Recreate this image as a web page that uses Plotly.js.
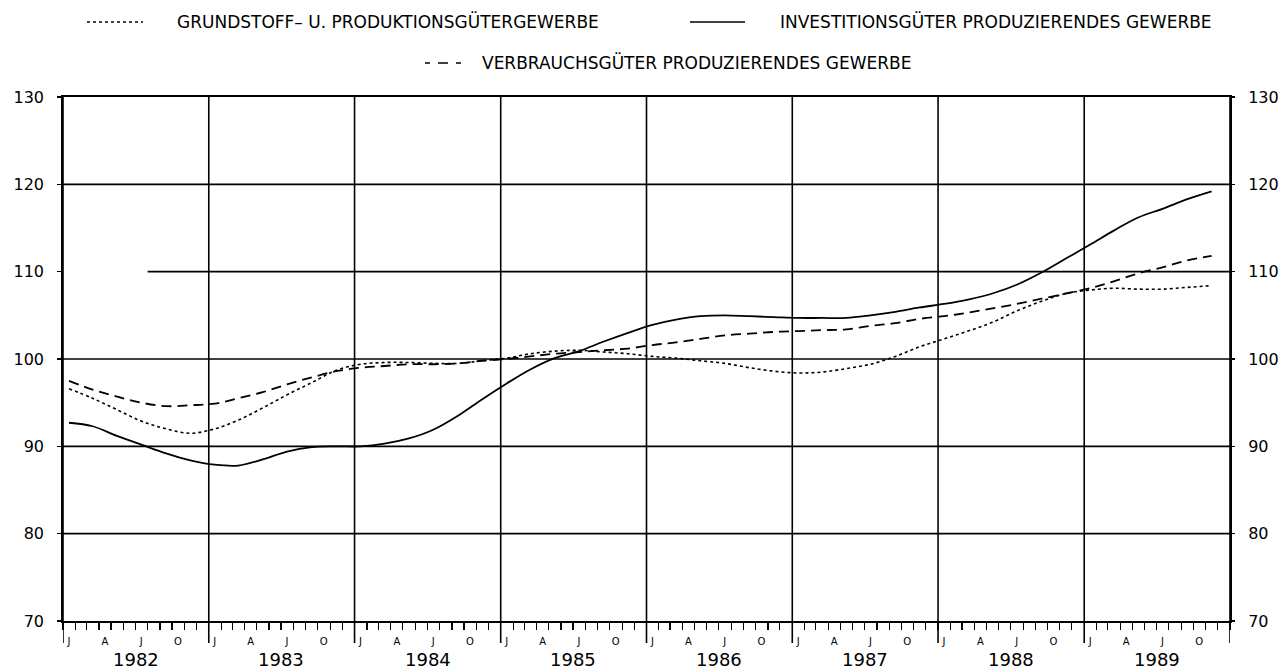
<!DOCTYPE html>
<html>
<head>
<meta charset="utf-8">
<script src="https://cdn.plot.ly/plotly-3.0.1.min.js"></script>
<style>html,body{margin:0;padding:0;background:#fff}#chart{width:1286px;height:669px}</style>
</head>
<body>
<div id="chart"></div>
<script>
// dates (mid-month, every second month)
var dates = [
 '1982-01-16','1982-03-16','1982-05-16','1982-07-16','1982-09-16','1982-11-16',
 '1983-01-16','1983-03-16','1983-05-16','1983-07-16','1983-09-16','1983-11-16',
 '1984-01-16','1984-03-16','1984-05-16','1984-07-16','1984-09-16','1984-11-16',
 '1985-01-16','1985-03-16','1985-05-16','1985-07-16','1985-09-16','1985-11-16',
 '1986-01-16','1986-03-16','1986-05-16','1986-07-16','1986-09-16','1986-11-16',
 '1987-01-16','1987-03-16','1987-05-16','1987-07-16','1987-09-16','1987-11-16',
 '1988-01-16','1988-03-16','1988-05-16','1988-07-16','1988-09-16','1988-11-16',
 '1989-01-16','1989-03-16','1989-05-16','1989-07-16','1989-09-16','1989-11-16'
];
var grundstoff = [
 96.6, 95.5, 94.2, 92.9, 92.0, 91.5,
 92.0, 93.0, 94.4, 95.9, 97.3, 98.7,
 99.4, 99.6, 99.6, 99.5, 99.5, 99.8,
 100.1, 100.6, 100.9, 101.0, 100.8, 100.6,
 100.3, 100.1, 99.8, 99.5, 99.0, 98.6,
 98.4, 98.5, 98.9, 99.4, 100.3, 101.4,
 102.3, 103.2, 104.2, 105.5, 106.6, 107.5,
 107.9, 108.1, 108.0, 108.0, 108.2, 108.4
];
var investition = [
 92.7, 92.3, 91.2, 90.2, 89.2, 88.4,
 87.9, 87.8, 88.5, 89.4, 89.9, 90.0,
 90.0, 90.3, 90.9, 91.9, 93.5, 95.4,
 97.2, 98.8, 100.1, 100.9, 102.0, 103.0,
 103.9, 104.5, 104.9, 105.0, 104.9, 104.8,
 104.7, 104.7, 104.7, 105.0, 105.4, 105.9,
 106.3, 106.8, 107.5, 108.5, 109.9, 111.5,
 113.1, 114.7, 116.2, 117.2, 118.3, 119.2
];
var verbrauch = [
 97.5, 96.5, 95.7, 95.0, 94.6, 94.7,
 94.9, 95.5, 96.2, 97.1, 97.9, 98.6,
 99.0, 99.2, 99.4, 99.4, 99.5, 99.8,
 100.0, 100.3, 100.6, 100.8, 101.0, 101.2,
 101.6, 101.9, 102.3, 102.7, 102.9, 103.1,
 103.2, 103.3, 103.4, 103.8, 104.1, 104.6,
 104.9, 105.3, 105.8, 106.3, 106.9, 107.5,
 108.1, 108.9, 109.8, 110.5, 111.3, 111.8
];
var years = ['1982','1983','1984','1985','1986','1987','1988','1989'];
var monthLetters = ['J','A','J','O'];
var monthDays = ['-01-16','-04-16','-07-16','-10-16'];
var seriesNames = ['GRUNDSTOFF\u2013 U. PRODUKTIONSG\u00dcTERGEWERBE','INVESTITIONSG\u00dcTER PRODUZIERENDES GEWERBE','VERBRAUCHSG\u00dcTER PRODUZIERENDES GEWERBE'];
var gridValues = [80, 90, 100, 110, 120];

var FONT = "'DejaVu Sans', 'Liberation Sans', sans-serif";

var traces = [
 {x: dates, y: grundstoff, name: seriesNames[0], mode: 'lines', line: {color: '#000', width: 1.6, dash: '3px,3px', shape: 'spline', smoothing: 1}},
 {x: dates, y: investition, name: seriesNames[1], mode: 'lines', line: {color: '#000', width: 1.8, shape: 'spline', smoothing: 1}},
 {x: dates, y: verbrauch, name: seriesNames[2], mode: 'lines', yaxis: 'y2', line: {color: '#000', width: 1.8, dash: '10px,6px', shape: 'spline', smoothing: 1}}
];

var tickvals = [], ticktext = [];
years.forEach(function (yr) {
  monthDays.forEach(function (md, i) { tickvals.push(yr + md); ticktext.push(monthLetters[i]); });
});

var shapes = [];
// vertical year lines, extending below the axis
for (var i = 0; i <= years.length; i++) {
  var yr = (1982 + i) + '-01-01';
  shapes.push({type: 'line', xref: 'x', yref: 'paper', x0: yr, x1: yr, y0: -0.042, y1: 1, line: {color: '#000', width: 1.6}, layer: 'below'});
}
// horizontal grid lines
gridValues.forEach(function (v) {
  shapes.push({type: 'line', xref: v === 110 ? 'x' : 'paper', yref: 'y',
    x0: v === 110 ? '1982-08-01' : 0, x1: v === 110 ? '1990-01-01' : 1,
    y0: v, y1: v, line: {color: '#000', width: 1.6}, layer: 'below'});
});

// legend samples (paper coordinates)
function px(x) { return (x - 63) / 1167; }
function py(y) { return (621 - y) / 524; }
shapes.push({type: 'line', xref: 'paper', yref: 'paper', x0: px(87), x1: px(143), y0: py(22), y1: py(22), line: {color: '#000', width: 1.3, dash: '3px,3px'}});
shapes.push({type: 'line', xref: 'paper', yref: 'paper', x0: px(690), x1: px(745), y0: py(22), y1: py(22), line: {color: '#000', width: 1.6}});
shapes.push({type: 'line', xref: 'paper', yref: 'paper', x0: px(425), x1: px(461), y0: py(63), y1: py(63), line: {color: '#000', width: 1.4, dash: '5px,8px,10px,8px,5px'}});

var legFont = {family: FONT, size: 17, color: '#000'};
var annotations = [
 {xref: 'paper', yref: 'paper', x: px(175), y: py(22), xanchor: 'left', yanchor: 'middle', text: seriesNames[0], showarrow: false, font: legFont},
 {xref: 'paper', yref: 'paper', x: px(778), y: py(22), xanchor: 'left', yanchor: 'middle', text: seriesNames[1], showarrow: false, font: legFont},
 {xref: 'paper', yref: 'paper', x: px(480), y: py(63), xanchor: 'left', yanchor: 'middle', text: seriesNames[2], showarrow: false, font: legFont}
];
years.forEach(function (yr) {
  annotations.push({xref: 'x', yref: 'paper', x: yr + '-07-02', y: py(659), xanchor: 'center', yanchor: 'middle', text: yr, showarrow: false, font: {family: FONT, size: 18, color: '#000'}});
});

var layout = {
  width: 1286, height: 669,
  margin: {l: 63, r: 56, t: 97, b: 48},
  paper_bgcolor: '#fff', plot_bgcolor: '#fff',
  showlegend: false,
  font: {family: FONT, color: '#000'},
  xaxis: {
    type: 'date', range: ['1982-01-01', '1990-01-01'],
    tickmode: 'array', tickvals: tickvals, ticktext: ticktext,
    ticks: '', tickfont: {family: FONT, size: 10, color: '#000'}, ticklabelstandoff: 10,
    showgrid: false, zeroline: false,
    showline: true, linecolor: '#000', linewidth: 1.8, mirror: true,
    minor: {tickmode: 'linear', tick0: '1982-01-01', dtick: 'M1', ticks: 'outside', ticklen: 7, tickwidth: 1.2, tickcolor: '#000', showgrid: false}
  },
  yaxis: {
    range: [70, 130], tickmode: 'linear', tick0: 70, dtick: 10,
    ticks: 'outside', ticklen: 4, tickwidth: 1.4, tickcolor: '#000',
    tickfont: {family: FONT, size: 16, color: '#000'}, ticklabelstandoff: 10,
    showgrid: false, zeroline: false,
    showline: true, linecolor: '#000', linewidth: 1.8, mirror: true
  },
  yaxis2: {
    overlaying: 'y', side: 'right', anchor: 'x', range: [70, 130], tickmode: 'linear', tick0: 70, dtick: 10,
    ticks: 'outside', ticklen: 4, tickwidth: 1.4, tickcolor: '#000',
    tickfont: {family: FONT, size: 16, color: '#000'}, ticklabelstandoff: 10,
    showgrid: false, zeroline: false, showline: false
  },
  shapes: shapes,
  annotations: annotations
};

Plotly.newPlot('chart', traces, layout, {displayModeBar: false, staticPlot: true});
</script>
</body>
</html>
